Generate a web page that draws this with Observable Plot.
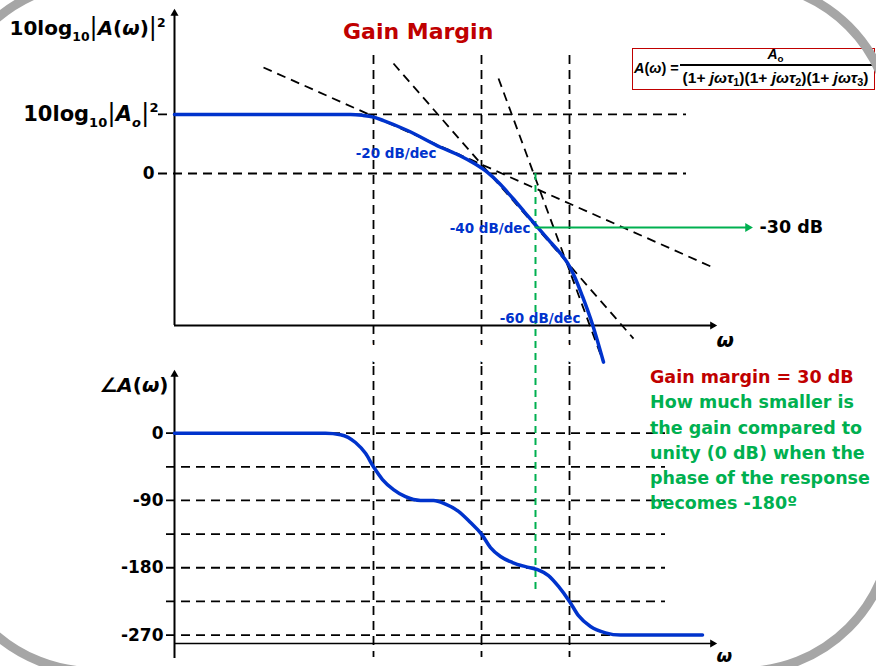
<!DOCTYPE html>
<html>
<head>
<meta charset="utf-8">
<script src="https://cdn.jsdelivr.net/npm/d3@7"></script>
<script src="https://cdn.jsdelivr.net/npm/@observablehq/plot@0.6"></script>
<style>
  html, body { margin: 0; padding: 0; background: #fff; }
  #page { position: relative; width: 876px; height: 666px; overflow: hidden; background: #fff;
          font-family: "DejaVu Sans", sans-serif; font-weight: bold; color: #000; }
  #frame { position: absolute; left: -60px; top: -22px; width: 957px; height: 698px; box-sizing: border-box;
           border: 9px solid #a6a6a6; border-radius: 154px; }
  #mag, #phase { position: absolute; left: 0; }
  #mag { top: 0; }
  #phase { top: 366px; }
  #title { position: absolute; left: 343px; top: 21px; font-size: 22px; line-height: 22px; color: #c00000; white-space: nowrap; }
  #note { position: absolute; left: 650px; top: 365px; font-size: 17.5px; line-height: 25.3px; color: #00b050; white-space: nowrap; }
  #note .gm { color: #c00000; }
  #formula { position: absolute; left: 632px; top: 48px; width: 243px; height: 42px; box-sizing: border-box;
             border: 1.5px solid #c00000; background: #fff; font-family: "Liberation Sans", Arial, sans-serif; }
  #formula .lhs { position: absolute; left: 1px; top: 12.2px; font-size: 14.5px; line-height: 14.5px; white-space: nowrap; }
  #formula .num { position: absolute; left: 46.5px; width: 192px; top: -2.3px; font-size: 14px; line-height: 14px; text-align: center; }
  #formula .bar { position: absolute; left: 46.5px; width: 192px; top: 15px; height: 1.5px; background: #000; }
  #formula .den { position: absolute; left: 44.5px; width: 196px; top: 20.9px; font-size: 15.5px; line-height: 15.5px; text-align: center; white-space: nowrap; }
  .sb { font-size: 0.7em; position: relative; top: 0.3em; line-height: 0; }
</style>
</head>
<body>
<div id="page">
  <div id="mag"></div>
  <div id="phase"></div>
  <div id="title">Gain Margin</div>
  <div id="formula">
    <div class="lhs"><i>A</i>(<i>ω</i>) =</div>
    <div class="num"><i>A</i><span class="sb">o</span></div>
    <div class="bar"></div>
    <div class="den">(1+ <i>jωτ</i><span class="sb">1</span>)(1+ <i>jωτ</i><span class="sb">2</span>)(1+ <i>jωτ</i><span class="sb">3</span>)</div>
  </div>
  <div id="note"></div>
  <div id="frame"></div>
</div>
<script>
// ---------------- data ----------------
// x: log10(ω) (arbitrary decade units), magnitude in dB, phase in degrees
const logOmegaDomain = [0, 5.41];
const breakLogOmega = [1.99, 3.07, 3.95];                 // 1/τ1, 1/τ2, 1/τ3
const breakLabels = ["1/*τ*_{1}", "1/*τ*_{2}", "1/*τ*_{3}"];

const magDomain = [-84.44, 89.44];
const magLogOmega = [0, 1.76, 1.88, 1.99, 2.09, 2.33, 2.66, 2.86, 2.99, 3.13, 3.26, 3.38, 3.50, 3.63, 3.76, 3.86, 3.93, 4.00, 4.08, 4.18, 4.29];
const magDb =       [32.8, 32.8, 32.3, 31.3, 29.4, 23.9, 14.6, 9.7, 5.8, 0.6, -6.1, -13.6, -21.4, -29.8, -38.1, -44.4, -49.7, -57.2, -68.3, -83.9, -104.8];

const levelDb = [32.8, 0];
const levelLabel = ["10log_{10}|*A*_{*o*}|^{2}", "0"];
const magAxisTitle = "10log_{10}|*A*(*ω*)|^{2}";
const magGridX = [-0.16, 5.12];
const magVLineDb = [65.6, -107.2];

const asymX1 = [0.89, 2.19, 3.24];
const asymDb1 = [58.9, 61.1, 52.8];
const asymX2 = [5.41, 4.59, 4.29];
const asymDb2 = [-52.8, -91.7, -105.0];

const slopeLabels = ["-20 dB/dec", "-40 dB/dec", "-60 dB/dec"];
const slopeLabelX = [2.62, 3.56, 4.06];
const slopeLabelDb = [11.1, -30.5, -80.6];

const gmLogOmega = 3.61;       // frequency where phase = -180
const gmDb = -30;              // gain there
const gmArrowEnd = 5.78;

const phaseDomain = [-281.3, 79.8];
const phaseTicks = [0, -90, -180, -270];
const phaseGrid = [0, -45, -90, -135, -180, -225, -270];
const phaseGridX = [-0.08, 4.91];
const phaseVLineDeg = [89.1, -300];
const phaseGreenDeg = [89.1, -214.4];
const phaseAxisBottomDeg = -301.4;
const phaseLogOmega = [0, 1.51, 1.66, 1.81, 1.91, 1.99, 2.08, 2.19, 2.31, 2.46, 2.59, 2.71, 2.84, 2.96, 3.07, 3.16, 3.26, 3.38, 3.51, 3.63, 3.74, 3.84, 3.95, 4.04, 4.16, 4.31, 4.46, 5.28];
const phaseDeg =      [0, 0, -2, -12.5, -27, -45, -62, -75.5, -85, -90, -90, -95, -104.5, -119.5, -135, -153, -165, -173, -178.5, -182.5, -190.5, -205, -225, -244, -258.5, -267, -270, -270];
const phaseAxisTitle = "∠*A*(*ω*)";
const omegaLabel = "*ω*";

const noteLines = ["Gain margin = 30 dB", "How much smaller is", "the gain compared to", "unity (0 dB) when the", "phase of the response", "becomes -180º"];

// ---------------- styles ----------------
const blue = "#0033cc", green = "#00b050";
const dash = {stroke: "black", strokeWidth: 1.8, strokeDasharray: "9,6"};
const font = '"DejaVu Sans", sans-serif';

const magData = magLogOmega.map((x, i) => ({x, y: magDb[i]}));
const asymptotes = asymX1.map((x1, i) => ({x1, y1: asymDb1[i], x2: asymX2[i], y2: asymDb2[i]}));
const phaseData = phaseLogOmega.map((x, i) => ({x, y: phaseDeg[i]}));

const magPlot = Plot.plot({
  width: 876, height: 366,
  marginLeft: 174, marginRight: 161, marginTop: 12, marginBottom: 41,
  x: {domain: logOmegaDomain, axis: null},
  y: {domain: magDomain, axis: null},
  style: {fontFamily: font, background: "transparent", overflow: "visible"},
  marks: [
    Plot.ruleY(levelDb, {x1: magGridX[0], x2: magGridX[1], ...dash}),
    Plot.ruleX(breakLogOmega, {y1: magVLineDb[0], y2: magVLineDb[1], ...dash}),
    Plot.link(asymptotes, {x1: "x1", y1: "y1", x2: "x2", y2: "y2", ...dash}),
    Plot.ruleX([gmLogOmega], {y1: 0, y2: magVLineDb[1], stroke: green, strokeWidth: 2, strokeDasharray: "7,5"}),
    Plot.ruleX([0], {y1: magDomain[0], y2: magDomain[1], stroke: "black", strokeWidth: 2}),
    Plot.ruleY([magDomain[0]], {x1: 0, x2: logOmegaDomain[1], stroke: "black", strokeWidth: 1.8}),
    Plot.dot([magDomain[1]], {x: 0, y: d => d, symbol: "triangle", r: 3, fill: "black", dy: 1}),
    Plot.dot([magDomain[0]], {x: logOmegaDomain[1], y: d => d, symbol: "triangle", rotate: 90, r: 3, fill: "black", dx: -3}),
    Plot.line(magData, {x: "x", y: "y", stroke: blue, strokeWidth: 3.5, curve: "monotone-x"}),
    Plot.ruleY([gmDb], {x1: gmLogOmega, x2: gmArrowEnd - 0.04, stroke: green, strokeWidth: 2}),
    Plot.dot([gmDb], {x: gmArrowEnd, y: d => d, symbol: "triangle", rotate: 90, r: 3.3, fill: green, dx: -4.7}),
    Plot.text(slopeLabels, {x: (d, i) => slopeLabelX[i], y: (d, i) => slopeLabelDb[i], text: d => d, textAnchor: "end", fill: blue, fontSize: 13.5, fontWeight: "bold"}),
    Plot.text([gmDb], {x: gmArrowEnd, y: d => d, text: d => `${d} dB`, textAnchor: "start", dx: 7, fontSize: 17.5, fontWeight: "bold"}),
    Plot.text([levelDb[0]], {x: 0, y: d => d, text: () => levelLabel[0], textAnchor: "end", dx: -16, fontSize: 21, fontWeight: "bold"}),
    Plot.text([levelDb[1]], {x: 0, y: d => d, text: () => levelLabel[1], textAnchor: "end", dx: -20, fontSize: 17, fontWeight: "bold"}),
    Plot.text([magDomain[1]], {x: 0, y: d => d, text: () => magAxisTitle, textAnchor: "end", dx: -9, dy: 16, fontSize: 20, fontWeight: "bold"}),
    Plot.text(breakLogOmega, {x: d => d, y: magDomain[0], text: (d, i) => breakLabels[i], dx: -4, dy: 27, fontSize: 19, fontWeight: "bold", stroke: "white", strokeWidth: 6}),
    Plot.text([magDomain[0]], {x: logOmegaDomain[1], y: d => d, text: () => omegaLabel, textAnchor: "start", dx: 1, dy: 15, fontSize: 20, fontWeight: "bold"})
  ]
});

const phasePlot = Plot.plot({
  width: 876, height: 300,
  marginLeft: 174, marginRight: 161, marginTop: 7, marginBottom: 23,
  x: {domain: logOmegaDomain, axis: null},
  y: {domain: phaseDomain, axis: null},
  style: {fontFamily: font, background: "transparent", overflow: "visible"},
  marks: [
    Plot.ruleY(phaseGrid, {x1: phaseGridX[0], x2: phaseGridX[1], ...dash}),
    Plot.ruleX(breakLogOmega, {y1: phaseVLineDeg[0], y2: phaseVLineDeg[1], ...dash}),
    Plot.ruleX([gmLogOmega], {y1: phaseGreenDeg[0], y2: phaseGreenDeg[1], stroke: green, strokeWidth: 2, strokeDasharray: "7,5"}),
    Plot.ruleX([0], {y1: phaseAxisBottomDeg, y2: phaseDomain[1], stroke: "black", strokeWidth: 2}),
    Plot.ruleY([phaseDomain[0]], {x1: 0, x2: logOmegaDomain[1], stroke: "black", strokeWidth: 1.6}),
    Plot.dot([phaseDomain[1]], {x: 0, y: d => d, symbol: "triangle", r: 3, fill: "black", dy: 1}),
    Plot.dot([phaseDomain[0]], {x: logOmegaDomain[1], y: d => d, symbol: "triangle", rotate: 90, r: 3, fill: "black", dx: -3}),
    Plot.line(phaseData, {x: "x", y: "y", stroke: blue, strokeWidth: 3.5, curve: "monotone-x"}),
    Plot.text(phaseTicks, {x: 0, y: d => d, text: d => String(d), textAnchor: "end", dx: -11, fontSize: 17, fontWeight: "bold"}),
    Plot.text([phaseDomain[1]], {x: 0, y: d => d, text: () => phaseAxisTitle, textAnchor: "end", dx: -6, dy: 12, fontSize: 20, fontWeight: "bold"}),
    Plot.text([phaseDomain[0]], {x: logOmegaDomain[1], y: d => d, text: () => omegaLabel, textAnchor: "start", dx: 1, dy: 13, fontSize: 18, fontWeight: "bold"})
  ]
});

// rich text: *italic*, _{sub}, ^{sup}, | thin bar
function richify(root) {
  const NS = "http://www.w3.org/2000/svg";
  root.querySelectorAll("text").forEach(t => {
    const s = t.textContent;
    if (!/[_^]\{|\*|\|/.test(s)) return;
    const fs = parseFloat(getComputedStyle(t).fontSize) || 16;
    while (t.firstChild) t.removeChild(t.firstChild);
    const parts = s.split(/(_\{[^}]*\}|\^\{[^}]*\}|\*[^*]*\*|\|)/).filter(p => p);
    let shift = 0;
    for (const p of parts) {
      let txt = p, target = 0, small = false, italic = false, bar = false;
      if (p.startsWith("_{")) { txt = p.slice(2, -1); target = 0.28 * fs; small = true; }
      else if (p.startsWith("^{")) { txt = p.slice(2, -1); target = -0.42 * fs; small = true; }
      else if (p === "|") { bar = true; }
      if (txt.length > 1 && txt.startsWith("*") && txt.endsWith("*")) { txt = txt.slice(1, -1); italic = true; }
      const ts = document.createElementNS(NS, "tspan");
      const dy = target - shift; shift = target;
      if (dy) ts.setAttribute("dy", dy.toFixed(2));
      if (small) ts.setAttribute("font-size", (0.62 * fs).toFixed(2));
      if (italic) ts.setAttribute("font-style", "italic");
      if (bar) { ts.setAttribute("font-weight", "normal"); ts.setAttribute("font-size", (1.2 * fs).toFixed(2)); }
      ts.textContent = txt;
      t.appendChild(ts);
    }
  });
}

document.getElementById("mag").appendChild(magPlot);
document.getElementById("phase").appendChild(phasePlot);
richify(magPlot);
richify(phasePlot);

const note = document.getElementById("note");
noteLines.forEach((line, i) => {
  const div = document.createElement("div");
  div.textContent = line;
  if (i === 0) div.className = "gm";
  note.appendChild(div);
});
</script>
</body>
</html>
